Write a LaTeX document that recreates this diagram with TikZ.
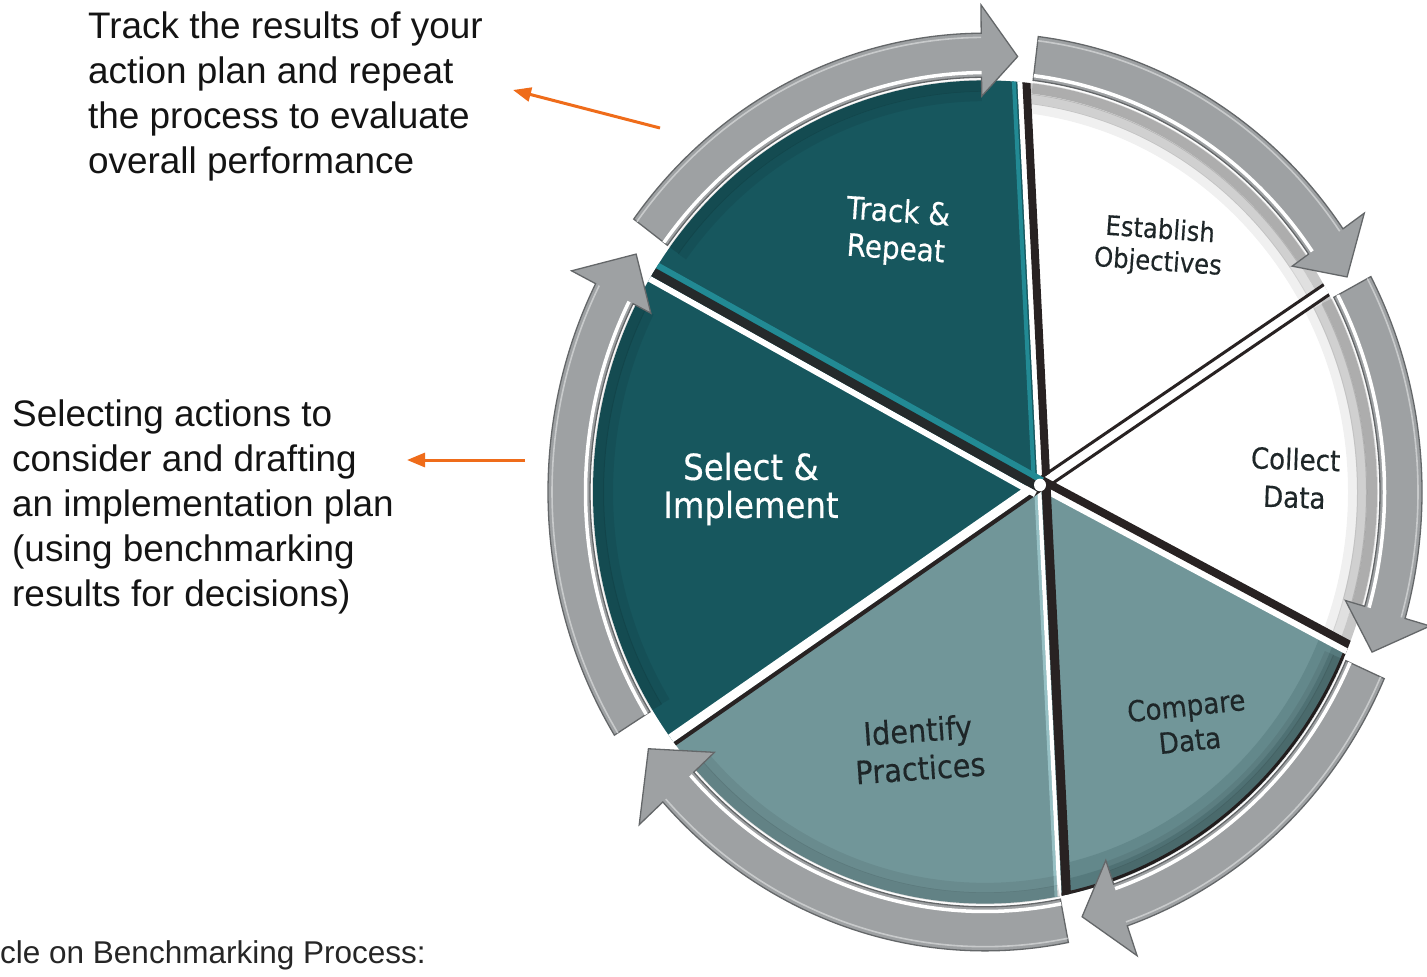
\documentclass[tikz,border=0pt]{standalone}
\usepackage{fontspec}
\setmainfont{Liberation Sans}
\newfontfamily\wedgefont[FakeStretch=0.9,FakeBold=0.35]{DejaVu Sans}
\usetikzlibrary{arrows.meta}
\definecolor{tealdark}{RGB}{23,87,94}
\definecolor{tealgray}{RGB}{113,150,153}
\definecolor{tealbright}{RGB}{34,138,148}
\definecolor{tealpale}{RGB}{150,192,196}
\definecolor{comparedark}{RGB}{86,122,125}
\definecolor{comparemid}{RGB}{99,136,139}
\definecolor{ringgray}{RGB}{158,161,163}
\definecolor{ringedge}{RGB}{100,103,105}
\definecolor{ringlight}{RGB}{200,202,203}
\definecolor{stripdark}{RGB}{40,34,34}
\definecolor{orangeline}{RGB}{239,108,26}
\definecolor{labeldark}{RGB}{30,38,40}
\definecolor{bodytext}{RGB}{20,20,20}
\definecolor{captiontext}{RGB}{38,38,38}

\newcommand\ringarrow[5]{%
  \pgfmathsetmacro\myrOut{437+#4}%
  \pgfmathsetmacro\myrIn{395-#5}%
  \draw[black, opacity=0.13, line width=12pt] (#1:387) arc[start angle=#1, end angle=#2, radius=387];
  \draw[black, opacity=0.07, line width=10pt] (#1:377) arc[start angle=#1, end angle=#2, radius=377];
  \filldraw[fill=ringgray, draw=ringedge, line width=1.3pt, line join=miter]
    (#1:437) arc[start angle=#1, end angle=#2, radius=437]
    -- (#2:\myrOut) -- (#3:416) -- (#2:\myrIn) -- (#2:395)
    arc[start angle=#2, end angle=#1, radius=395] -- cycle;
  \draw[white, line width=3.5pt] (#1:399.5) arc[start angle=#1, end angle=#2, radius=399.5];
  \draw[ringlight, line width=1.6pt] (#1:433) arc[start angle=#1, end angle=#2, radius=433];
}

\begin{document}
\begin{tikzpicture}[x=1pt,y=1pt,
  bodytxt/.style={anchor=north west, inner sep=0pt, align=left, text=bodytext,
    font=\fontsize{36.9}{45}\selectfont},
  wedgelabel/.style 2 args={align=center, inner sep=0pt,
    font=\wedgefont\fontsize{#1}{#2}\selectfont},
  orangearrow/.style={draw=orangeline, line width=3pt, -{Triangle[length=18pt,width=14pt]}},
]
\useasboundingbox (0,-977) rectangle (1427,0);
\fill[white] (0,-977) rectangle (1427,0);

\begin{scope}[shift={(985,-492)}, yscale=1.05]
  \coordinate (A) at (55,6.7);
  \begin{scope}
    \clip (0,0) circle[radius=392];
    % Track & Repeat
    \begin{scope}
      \clip (A) -- +(152:900) -- +(93:900) -- cycle;
      \fill[tealdark] (0,0) circle[radius=392];
    \end{scope}
    % Establish
    \begin{scope}
      \clip (A) -- +(93:900) -- +(33:900) -- cycle;
      \fill[white] (0,0) circle[radius=392];
      \draw[black, opacity=0.22, line width=12pt] (0,0) circle[radius=388];
      \draw[black, opacity=0.12, line width=10pt] (0,0) circle[radius=377];
      \draw[black, opacity=0.06, line width=10pt] (0,0) circle[radius=368];
    \end{scope}
    % Collect
    \begin{scope}
      \clip (A) -- +(33:900) -- +(-27:900) -- cycle;
      \fill[white] (0,0) circle[radius=392];
      \draw[black, opacity=0.22, line width=12pt] (0,0) circle[radius=388];
      \draw[black, opacity=0.12, line width=10pt] (0,0) circle[radius=377];
      \draw[black, opacity=0.06, line width=10pt] (0,0) circle[radius=368];
    \end{scope}
    % Compare
    \begin{scope}
      \clip (A) -- +(-27:900) -- +(-87:900) -- cycle;
      \fill[tealgray] (0,0) circle[radius=392];
      \draw[comparemid, line width=16pt] (0,0) circle[radius=370];
      \draw[comparedark, line width=14pt] (0,0) circle[radius=384];
      \draw[stripdark, line width=4pt] (0,0) circle[radius=391];
    \end{scope}
    % Identify
    \begin{scope}
      \clip (A) -- +(-87:900) -- +(-146.5:900) -- cycle;
      \fill[tealgray] (0,0) circle[radius=392];
    \end{scope}
    % Select
    \begin{scope}
      \clip (A) -- +(213.5:900) -- +(152:900) -- cycle;
      \fill[tealdark] (0,0) circle[radius=392];
    \end{scope}
    % gaps
    \draw[tealbright, line width=4pt] (A) ++(183:6) -- +(93:600);
    \draw[white, line width=5pt] (A) -- +(93:600);
    \draw[stripdark, line width=8pt] (A) ++(3:6.5) -- +(93:600);

    \draw[white, line width=8pt] (A) -- +(33:600);
    \draw[stripdark, line width=3pt] (A) ++(123:5.5) -- +(33:600);
    \draw[stripdark, line width=3pt] (A) ++(-57:5.5) -- +(33:600);

    \draw[white, line width=6pt] (A) ++(-117:2) -- +(-27:600);
    \draw[stripdark, line width=8pt] (A) ++(63:5) -- +(-27:600);

    \draw[tealpale, line width=3pt] (A) ++(-177:4.5) -- +(-87:600);
    \draw[white, line width=4pt] (A) ++(-177:1) -- +(-87:600);
    \draw[stripdark, line width=9pt] (A) ++(3:6) -- +(-87:600);

    \draw[white, line width=9pt] (A) ++(123.5:2.5) -- +(213.5:600);
    \draw[stripdark, line width=4pt] (A) ++(-56.5:4) -- +(213.5:600);

    \draw[white, line width=6pt] (A) ++(242:10) -- +(152:600);
    \draw[stripdark!85!tealdark, line width=9pt] (A) ++(242:2.5) -- +(152:600);
    \draw[tealbright, line width=6pt] (A) ++(62:5) -- +(152:600);

    \fill[white] (A) circle[radius=6];
  \end{scope}

  % ring arrows: start, head base, tip, outer barb, inner barb
  \ringarrow{143.5}{90.5}{85.5}{27}{18}
  \ringarrow{83}{35}{29.5}{26}{20}
  \ringarrow{28}{-16}{-21.5}{26}{20}
  \ringarrow{-24}{-71}{-76.5}{30}{24}
  \ringarrow{-79}{-137.5}{-144}{32}{28}
  \ringarrow{212}{153}{147}{27}{20}
\end{scope}

% wedge labels
\node[wedgelabel={31}{37}, text=white, rotate=-4] (track) at (897,-232) {Track \&\\Repeat};
\node[wedgelabel={27}{32}, text=labeldark, rotate=-4] (estab) at (1159,-247) {Establish\\Objectives};
\node[wedgelabel={29}{38}, text=labeldark, rotate=-2] (collect) at (1295,-478) {Collect\\Data};
\node[wedgelabel={29}{35}, text=labeldark, rotate=6] (compare) at (1188,-723) {Compare\\Data};
\node[wedgelabel={32}{38}, text=labeldark, rotate=4] (identify) at (919,-749) {Identify\\Practices};
\node[wedgelabel={36}{38}, text=white, rotate=0] (select) at (751,-489) {Select \&\\Implement};

% side texts
\node[bodytxt] (tracktext) at (88,-12) {Track the results of your\\action plan and repeat\\the process to evaluate\\overall performance};
\node[bodytxt] (selecttext) at (12,-400) {Selecting actions to\\consider and drafting\\an implementation plan\\(using benchmarking\\results for decisions)};
\node[anchor=north west, inner sep=0pt, text=captiontext, font=\fontsize{31.5}{37}\selectfont] (caption) at (0,-940) {cle on Benchmarking Process:};

% orange pointers
\coordinate (o1s) at (660,-128);
\coordinate (o1e) at (513,-90);
\coordinate (o2s) at (525,-460);
\coordinate (o2e) at (407,-460);
\draw[orangearrow] (o1s) -- (o1e);
\draw[orangearrow] (o2s) -- (o2e);
\end{tikzpicture}
\end{document}
